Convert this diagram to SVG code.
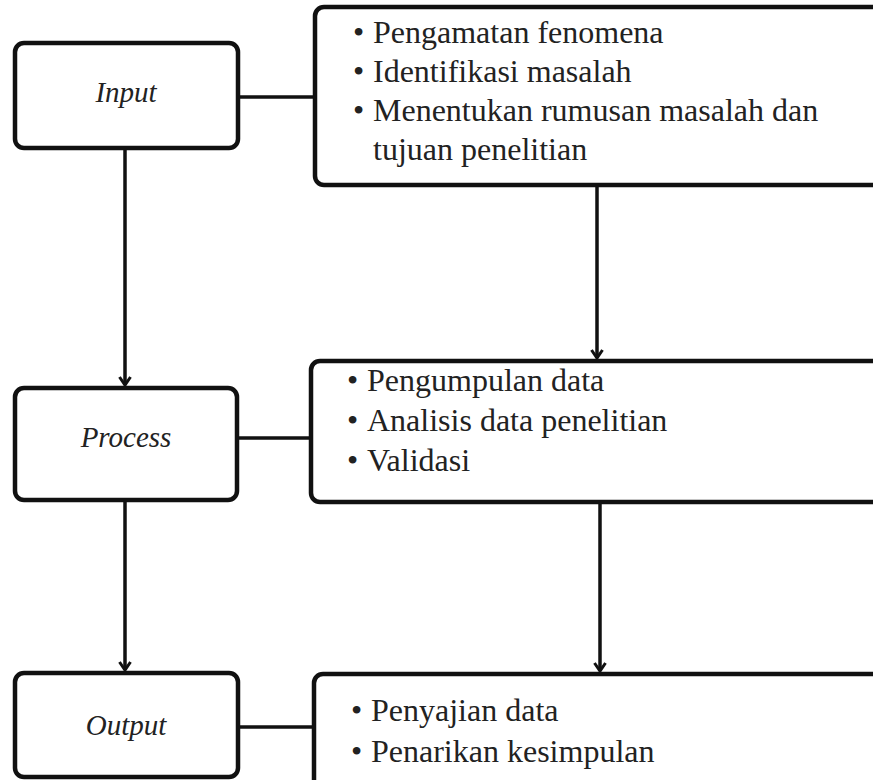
<svg xmlns="http://www.w3.org/2000/svg" width="873" height="780" viewBox="0 0 873 780">
<style>
.box{fill:#fff;stroke:#111;stroke-width:4.5}
.lbl{font-family:'Liberation Serif','Times New Roman',Times,serif;font-style:italic;font-size:29px;fill:#222;text-anchor:middle}
.itm{font-family:'Liberation Serif','Times New Roman',Times,serif;font-size:32px;fill:#222}
.con{stroke:#111;stroke-width:3.5;fill:none}
</style>
<defs>
<marker id="ah" viewBox="-2 -2 14 16" refX="9" refY="6" markerWidth="14" markerHeight="16" markerUnits="userSpaceOnUse" orient="auto">
<path d="M1,0.5 L9,6 L1,11.5" fill="none" stroke="#111" stroke-width="3"/>
</marker>
</defs>
<g id="connectors">
<line class="con" x1="238" y1="97" x2="315" y2="97"/>
<line class="con" x1="237" y1="438" x2="311" y2="438"/>
<line class="con" x1="238" y1="727" x2="314" y2="727"/>
<line class="con" x1="125" y1="148" x2="125" y2="385" marker-end="url(#ah)"/>
<line class="con" x1="597" y1="185" x2="597" y2="358" marker-end="url(#ah)"/>
<line class="con" x1="125" y1="500" x2="125" y2="670" marker-end="url(#ah)"/>
<line class="con" x1="600" y1="502" x2="600" y2="671" marker-end="url(#ah)"/>
</g>
<g id="input">
<rect class="box" x="15" y="43" width="223" height="105" rx="9"/>
<text class="lbl" x="126" y="102">Input</text>
</g>
<g id="input-items">
<rect class="box" x="315" y="7" width="580" height="178" rx="9"/>
<text class="itm" y="43"><tspan x="353">•</tspan><tspan x="373">Pengamatan fenomena</tspan></text>
<text class="itm" y="82"><tspan x="353">•</tspan><tspan x="373">Identifikasi masalah</tspan></text>
<text class="itm" y="121"><tspan x="353">•</tspan><tspan x="373">Menentukan rumusan masalah dan</tspan></text>
<text class="itm" y="160"><tspan x="373">tujuan penelitian</tspan></text>
</g>
<g id="process">
<rect class="box" x="15" y="388" width="222" height="112" rx="9"/>
<text class="lbl" x="126" y="447">Process</text>
</g>
<g id="process-items">
<rect class="box" x="311" y="361" width="580" height="141" rx="9"/>
<text class="itm" y="391"><tspan x="347">•</tspan><tspan x="367">Pengumpulan data</tspan></text>
<text class="itm" y="431"><tspan x="347">•</tspan><tspan x="367">Analisis data penelitian</tspan></text>
<text class="itm" y="471"><tspan x="347">•</tspan><tspan x="367">Validasi</tspan></text>
</g>
<g id="output">
<rect class="box" x="15" y="673" width="223" height="104" rx="9"/>
<text class="lbl" x="126" y="735">Output</text>
</g>
<g id="output-items">
<rect class="box" x="314" y="674" width="580" height="130" rx="9"/>
<text class="itm" y="721"><tspan x="351">•</tspan><tspan x="371">Penyajian data</tspan></text>
<text class="itm" y="762"><tspan x="351">•</tspan><tspan x="371">Penarikan kesimpulan</tspan></text>
</g>
</svg>
